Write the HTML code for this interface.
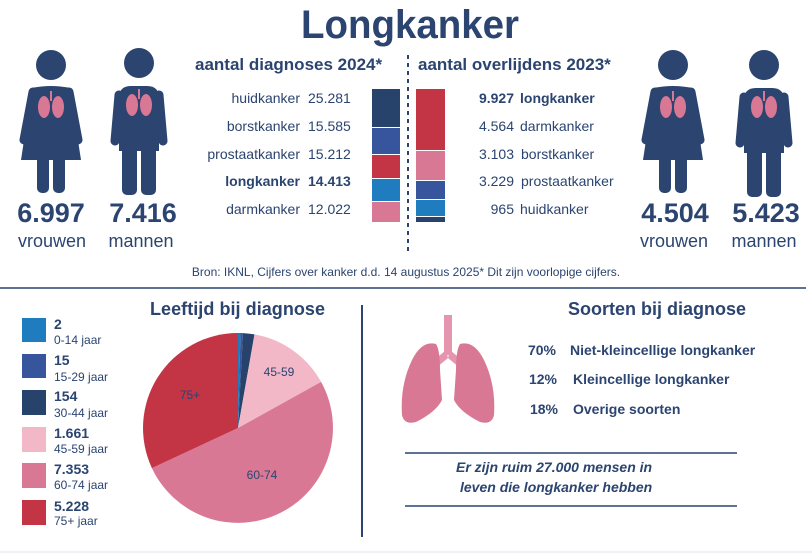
<!DOCTYPE html>
<html><head><meta charset="utf-8"><style>
html,body{margin:0;padding:0;background:#fff}
svg{display:block}
text{font-family:"Liberation Sans",sans-serif;fill:#2b4470}
.b{font-weight:bold}
</style></head><body>
<svg width="812" height="555" viewBox="0 0 812 555" xmlns="http://www.w3.org/2000/svg">
<defs>
<g id="woman">
<circle cx="0" cy="0" r="15" fill="#2b4470"/>
<path d="M-19,23 Q0,19 19,23 L30,95 L-30,95 Z" fill="#2b4470"/>
<line x1="-18" y1="27" x2="-27" y2="75" stroke="#2b4470" stroke-width="9" stroke-linecap="round"/>
<line x1="18" y1="27" x2="27" y2="75" stroke="#2b4470" stroke-width="9" stroke-linecap="round"/>
<rect x="-14" y="90" width="12" height="38" rx="5" fill="#2b4470"/>
<rect x="2" y="90" width="12" height="38" rx="5" fill="#2b4470"/>
<g fill="#d97895"><ellipse cx="-7" cy="42" rx="6" ry="11"/><ellipse cx="7" cy="42" rx="6" ry="11"/></g>
<line x1="0" y1="26" x2="0" y2="36" stroke="#d97895" stroke-width="2"/>
</g>
<g id="man">
<circle cx="0" cy="0" r="15" fill="#2b4470"/>
<path d="M-20,35 Q-20,23 -8,23 L8,23 Q20,23 20,35 L20,88 L-20,88 Z" fill="#2b4470"/>
<line x1="-20" y1="32" x2="-24" y2="78" stroke="#2b4470" stroke-width="9" stroke-linecap="round"/>
<line x1="20" y1="32" x2="24" y2="78" stroke="#2b4470" stroke-width="9" stroke-linecap="round"/>
<rect x="-17" y="80" width="15" height="52" rx="5" fill="#2b4470"/>
<rect x="2" y="80" width="15" height="52" rx="5" fill="#2b4470"/>
<g fill="#d97895"><ellipse cx="-7" cy="42" rx="6" ry="11"/><ellipse cx="7" cy="42" rx="6" ry="11"/></g>
<line x1="0" y1="26" x2="0" y2="36" stroke="#d97895" stroke-width="2"/>
</g>
</defs>

<text x="410" y="38" text-anchor="middle" class="b" font-size="40" textLength="218" lengthAdjust="spacingAndGlyphs">Longkanker</text>

<use href="#woman" x="51" y="65"/>
<use href="#man" x="139" y="63"/>
<use href="#woman" x="673" y="65"/>
<use href="#man" x="764" y="65"/>

<g class="b" font-size="27" text-anchor="middle">
<text x="51" y="222" class="b">6.997</text>
<text x="143" y="222" class="b">7.416</text>
<text x="675" y="222" class="b">4.504</text>
<text x="766" y="222" class="b">5.423</text>
</g>
<g font-size="18" text-anchor="middle">
<text x="52" y="247">vrouwen</text>
<text x="141" y="247">mannen</text>
<text x="674" y="247">vrouwen</text>
<text x="764" y="247">mannen</text>
</g>

<text x="195" y="70" class="b" font-size="17">aantal diagnoses 2024*</text>
<text x="418" y="70" class="b" font-size="17">aantal overlijdens 2023*</text>

<g font-size="14" text-anchor="end">
<text x="300" y="103">huidkanker</text>
<text x="300" y="131">borstkanker</text>
<text x="300" y="159">prostaatkanker</text>
<text x="300" y="186" class="b">longkanker</text>
<text x="300" y="214">darmkanker</text>
</g>
<g font-size="14">
<text x="308" y="103">25.281</text>
<text x="308" y="131">15.585</text>
<text x="308" y="159">15.212</text>
<text x="308" y="186" class="b">14.413</text>
<text x="308" y="214">12.022</text>
</g>

<rect x="372" y="89" width="28" height="38" fill="#27426b"/>
<rect x="372" y="128" width="28" height="26" fill="#36559c"/>
<rect x="372" y="155" width="28" height="23" fill="#c33444"/>
<rect x="372" y="179" width="28" height="22" fill="#1f7cbf"/>
<rect x="372" y="202" width="28" height="20" fill="#d97895"/>

<line x1="408" y1="55" x2="408" y2="252" stroke="#2b4470" stroke-width="2" stroke-dasharray="4,4"/>

<rect x="416" y="89" width="29" height="61" fill="#c33444"/>
<rect x="416" y="151" width="29" height="29" fill="#d97895"/>
<rect x="416" y="181" width="29" height="18" fill="#36559c"/>
<rect x="416" y="200" width="29" height="16" fill="#1f7cbf"/>
<rect x="416" y="217" width="29" height="5" fill="#27426b"/>

<g font-size="14" text-anchor="end">
<text x="514" y="103" class="b">9.927</text>
<text x="514" y="131">4.564</text>
<text x="514" y="159">3.103</text>
<text x="514" y="186">3.229</text>
<text x="514" y="214">965</text>
</g>
<g font-size="14">
<text x="520" y="103" class="b">longkanker</text>
<text x="520" y="131">darmkanker</text>
<text x="521" y="159">borstkanker</text>
<text x="521" y="186">prostaatkanker</text>
<text x="520" y="214">huidkanker</text>
</g>

<text x="406" y="276" text-anchor="middle" font-size="12">Bron: IKNL, Cijfers over kanker d.d. 14 augustus 2025* Dit zijn voorlopige cijfers.</text>
<line x1="0" y1="288" x2="806" y2="288" stroke="#2b4470" stroke-width="1.5"/>
<line x1="0" y1="552" x2="812" y2="552" stroke="#eef1f5" stroke-width="2"/>

<rect x="22" y="318" width="24" height="24" fill="#1f7cbf"/>
<rect x="22" y="354" width="24" height="24" fill="#36559c"/>
<rect x="22" y="390" width="24" height="25" fill="#27426b"/>
<rect x="22" y="427" width="24" height="25" fill="#f2b8c8"/>
<rect x="22" y="463" width="24" height="25" fill="#d97895"/>
<rect x="22" y="500" width="24" height="25" fill="#c33444"/>
<g font-size="14" class="b">
<text x="54" y="329" class="b">2</text>
<text x="54" y="365" class="b">15</text>
<text x="54" y="401" class="b">154</text>
<text x="54" y="438" class="b">1.661</text>
<text x="54" y="474" class="b">7.353</text>
<text x="54" y="511" class="b">5.228</text>
</g>
<g font-size="12">
<text x="54" y="344">0-14 jaar</text>
<text x="54" y="381">15-29 jaar</text>
<text x="54" y="417">30-44 jaar</text>
<text x="54" y="453">45-59 jaar</text>
<text x="54" y="489">60-74 jaar</text>
<text x="54" y="525">75+ jaar</text>
</g>

<text x="150" y="315" class="b" font-size="18" textLength="175">Leeftijd bij diagnose</text>

<g>
<path d="M238,428 L238,333 A95,95 0 0 1 240.5,333 Z" fill="#1f7cbf"/>
<path d="M238,428 L240.5,333 A95,95 0 0 1 243,333.1 Z" fill="#36559c"/>
<path d="M238,428 L243,333.1 A95,95 0 0 1 254.5,334.4 Z" fill="#27426b"/>
<path d="M238,428 L254.5,334.4 A95,95 0 0 1 321.1,381.9 Z" fill="#f2b8c8"/>
<path d="M238,428 L321.1,381.9 A95,95 0 1 1 151.9,468.1 Z" fill="#d97895"/>
<path d="M238,428 L151.9,468.1 A95,95 0 0 1 238,333 Z" fill="#c33444"/>
</g>
<g font-size="12" text-anchor="middle">
<text x="279" y="376">45-59</text>
<text x="190" y="399">75+</text>
<text x="262" y="479">60-74</text>
</g>

<line x1="362" y1="305" x2="362" y2="537" stroke="#2b4470" stroke-width="2"/>

<g fill="#d97895">
<rect x="444" y="315" width="8" height="40" fill="#e596ae"/>
<path d="M446,350 L432,362 L436,368 L448,358 Z" fill="#e596ae"/>
<path d="M450,350 L464,362 L460,368 L448,358 Z" fill="#e596ae"/>
<path d="M436,344 Q422,340 412,360 Q400,385 402,415 Q404,425 416,422 Q436,412 442,400 L440,370 Q440,350 436,344 Z"/>
<path d="M460,344 Q474,340 484,360 Q496,385 494,415 Q492,425 480,422 Q460,412 454,400 L456,370 Q456,350 460,344 Z"/>
</g>

<text x="657" y="315" text-anchor="middle" class="b" font-size="18">Soorten bij diagnose</text>
<g font-size="14" class="b">
<text x="556" y="355" text-anchor="end">70%</text>
<text x="557" y="384" text-anchor="end">12%</text>
<text x="558" y="414" text-anchor="end">18%</text>
<text x="570" y="355">Niet-kleincellige longkanker</text>
<text x="573" y="384">Kleincellige longkanker</text>
<text x="573" y="414">Overige soorten</text>
</g>
<line x1="405" y1="453" x2="737" y2="453" stroke="#2b4470" stroke-width="1.5"/>
<line x1="405" y1="506" x2="737" y2="506" stroke="#2b4470" stroke-width="1.5"/>
<g font-size="14" class="b" font-style="italic">
<text x="456" y="472">Er zijn ruim 27.000 mensen in</text>
<text x="460" y="492">leven die longkanker hebben</text>
</g>
</svg>
</body></html>
